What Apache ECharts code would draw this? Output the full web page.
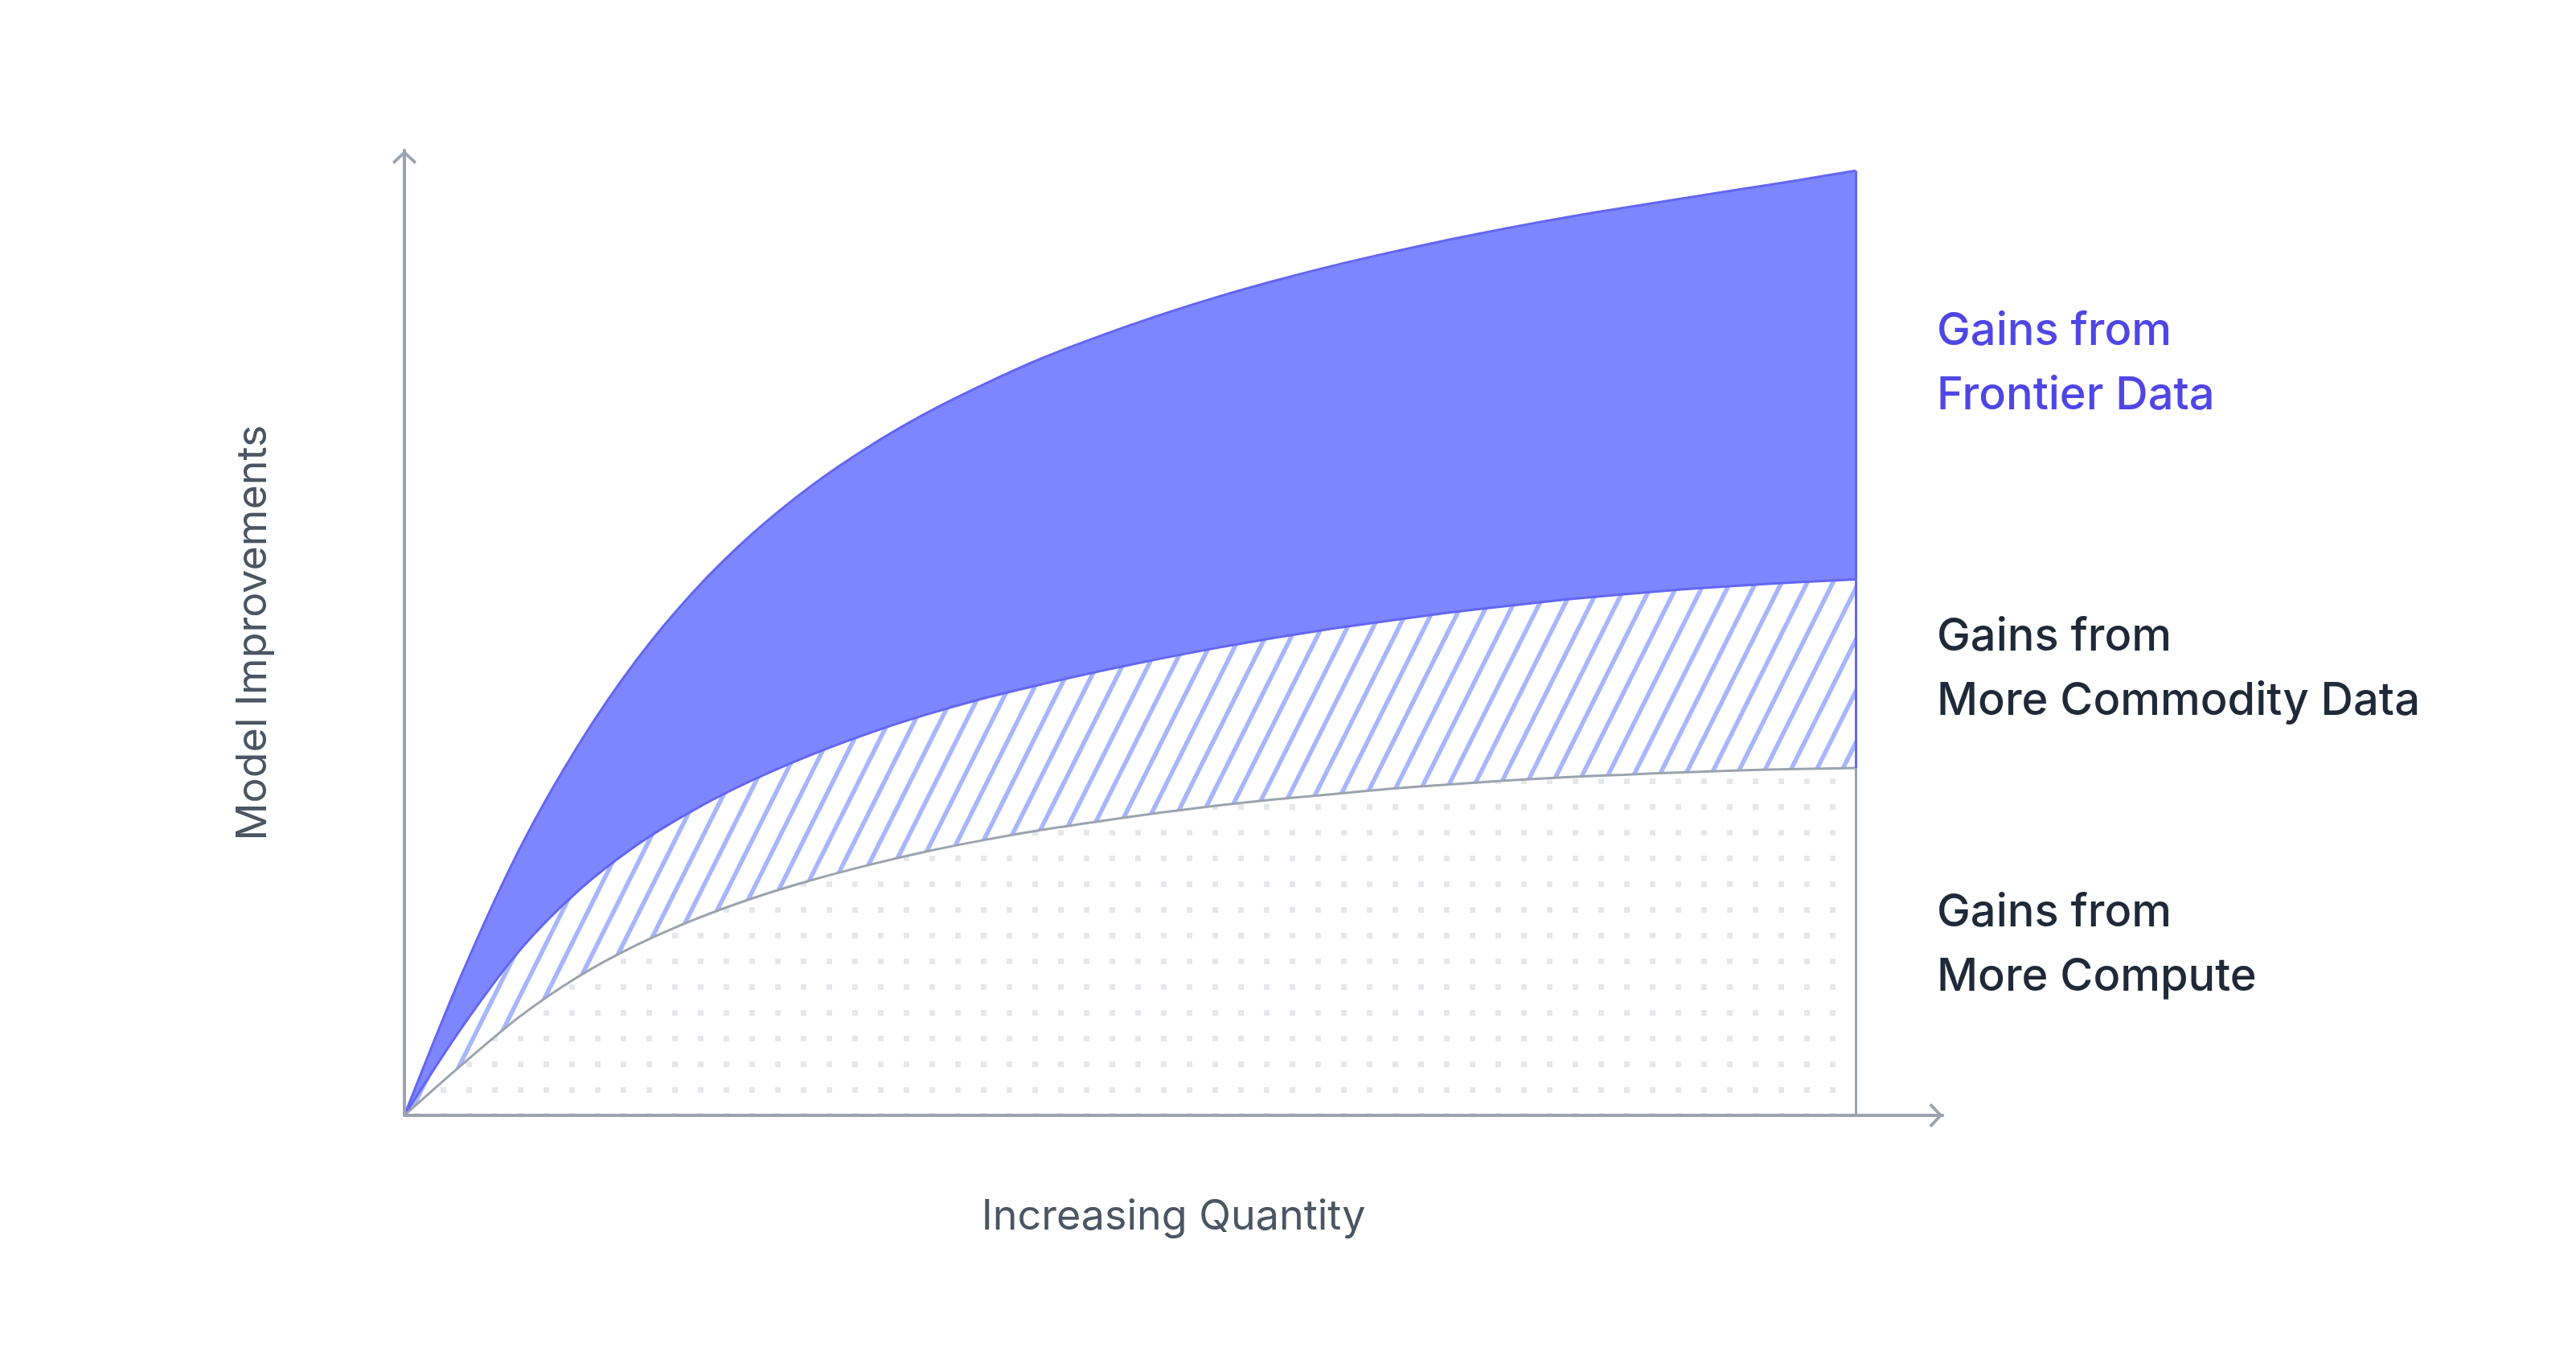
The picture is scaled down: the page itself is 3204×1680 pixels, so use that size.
<!DOCTYPE html>
<html>
<head>
<meta charset="utf-8">
<script src="https://cdn.jsdelivr.net/npm/echarts@6/dist/echarts.min.js"></script>
<style>
  html, body { margin: 0; padding: 0; background: #ffffff; }
  #chart { width: 3204px; height: 1680px; }
</style>
</head>
<body>
<div id="chart"></div>
<script>
// ---- data ----
const quantity = [0, 4, 8, 12, 16, 20, 24, 28, 32, 36, 40, 44, 48, 52, 56, 60, 64, 68, 72, 76, 80, 84, 88, 92, 96, 100];
const frontierData = [0, 14.8, 27.8, 38.4, 47.2, 54.4, 60.3, 65.2, 69.3, 72.8, 75.8, 78.5, 80.8, 82.9, 84.8, 86.5, 88.05, 89.45, 90.75, 91.95, 93.05, 94.05, 95.0, 95.95, 96.9, 97.9];
const commodityData = [0, 9.2, 17.2, 23.3, 28.0, 31.7, 34.75, 37.35, 39.6, 41.55, 43.25, 44.7, 46.05, 47.3, 48.45, 49.5, 50.45, 51.3, 52.1, 52.8, 53.45, 54.0, 54.5, 54.9, 55.25, 55.55];
const computeData = [0, 5.3, 10.3, 14.4, 17.65, 20.3, 22.5, 24.35, 25.95, 27.35, 28.55, 29.6, 30.5, 31.35, 32.1, 32.75, 33.3, 33.85, 34.3, 34.7, 35.05, 35.3, 35.55, 35.75, 35.9, 36.0];
const seriesNames = ['Gains from\nFrontier Data', 'Gains from\nMore Commodity Data', 'Gains from\nMore Compute'];
const xAxisName = 'Increasing Quantity';
const yAxisName = 'Model Improvements';

const pairs = (ys) => quantity.map((x, i) => [x, ys[i]]);
const lastX = quantity[quantity.length - 1];
const last = (arr) => arr[arr.length - 1];

// ---- patterns ----
function dotPattern() {
  const c = document.createElement('canvas');
  c.width = 32; c.height = 32;
  const g = c.getContext('2d');
  g.fillStyle = '#ffffff'; g.fillRect(0, 0, 32, 32);
  g.fillStyle = '#e5e7eb'; g.fillRect(4, 8, 7, 7);
  return c;
}
function hatchPattern() {
  const W = 32, H = 64, dx = 18;
  const c = document.createElement('canvas');
  c.width = W; c.height = H;
  const g = c.getContext('2d');
  g.fillStyle = '#ffffff'; g.fillRect(0, 0, W, H);
  g.strokeStyle = '#a8b6fd'; g.lineWidth = 5.5;
  for (let k = -3; k <= 2; k++) {
    g.beginPath();
    g.moveTo(dx + W * k - 2, H + 4);
    g.lineTo(dx + W * k + W + 2, -4);
    g.stroke();
  }
  return c;
}

const axisColor = '#9ca3af';
const arrowPath = 'path://M15,0 L30,14 L27.5,17 L17,7 L17,17 L13,17 L13,7 L2.5,17 L0,14 Z';
const fontFamily = 'Inter, "Noto Sans", sans-serif';

function edge(y0, y1, color) {
  return {
    silent: true, symbol: 'none', animation: false,
    label: { show: false },
    emphasis: { disabled: true },
    lineStyle: { color: color, width: 3, type: 'solid' },
    data: [[{ coord: [lastX, y0] }, { coord: [lastX, y1] }]]
  };
}

const chart = echarts.init(document.getElementById('chart'), null, { renderer: 'canvas' });
chart.setOption({
  animation: false,
  backgroundColor: '#ffffff',
  grid: { left: 503, top: 187, width: 1913.3, height: 1200, containLabel: false },
  xAxis: {
    type: 'value', min: 0, max: 106, z: 10,
    name: xAxisName, nameLocation: 'middle', nameGap: 100,
    nameTextStyle: { fontSize: 52, color: '#4b5563', fontFamily: fontFamily },
    axisLine: { show: true, onZero: false, lineStyle: { color: axisColor, width: 4 },
      symbol: ['none', arrowPath], symbolSize: [30, 17], symbolOffset: [0, -8.5] },
    axisTick: { show: false }, axisLabel: { show: false }, splitLine: { show: false }
  },
  yAxis: {
    type: 'value', min: 0, max: 100, z: 10,
    name: yAxisName, nameLocation: 'middle', nameGap: 162,
    nameTextStyle: { fontSize: 52, color: '#4b5563', fontFamily: fontFamily },
    axisLine: { show: true, onZero: false, lineStyle: { color: axisColor, width: 4 },
      symbol: ['none', arrowPath], symbolSize: [30, 17], symbolOffset: [0, -8.5] },
    axisTick: { show: false }, axisLabel: { show: false }, splitLine: { show: false }
  },
  series: [
    {
      name: seriesNames[0], type: 'line', data: pairs(frontierData),
      smooth: 0.3, showSymbol: false, silent: true, z: 2,
      lineStyle: { color: '#6366f1', width: 3 },
      areaStyle: { color: '#7d86fe', opacity: 1, origin: 'start' },
      markLine: edge(last(commodityData), last(frontierData), '#6366f1')
    },
    {
      name: seriesNames[1], type: 'line', data: pairs(commodityData),
      smooth: 0.3, showSymbol: false, silent: true, z: 3,
      lineStyle: { color: '#6366f1', width: 3 },
      areaStyle: { color: { image: hatchPattern(), repeat: 'repeat' }, opacity: 1, origin: 'start' },
      markLine: edge(last(computeData), last(commodityData), '#6366f1')
    },
    {
      name: seriesNames[2], type: 'line', data: pairs(computeData),
      smooth: 0.3, showSymbol: false, silent: true, z: 4,
      lineStyle: { color: '#9ca3af', width: 3 },
      areaStyle: { color: { image: dotPattern(), repeat: 'repeat' }, opacity: 1, origin: 'start' },
      markLine: edge(0, last(computeData), '#9ca3af')
    }
  ],
  graphic: [
    { type: 'text', left: 2409, top: 372, silent: true,
      style: { text: seriesNames[0], font: '500 56px ' + fontFamily, fill: '#4f46e5', lineHeight: 80 } },
    { type: 'text', left: 2409, top: 752, silent: true,
      style: { text: seriesNames[1], font: '500 56px ' + fontFamily, fill: '#1f2937', lineHeight: 80 } },
    { type: 'text', left: 2409, top: 1095, silent: true,
      style: { text: seriesNames[2], font: '500 56px ' + fontFamily, fill: '#1f2937', lineHeight: 80 } }
  ]
});
</script>
</body>
</html>
